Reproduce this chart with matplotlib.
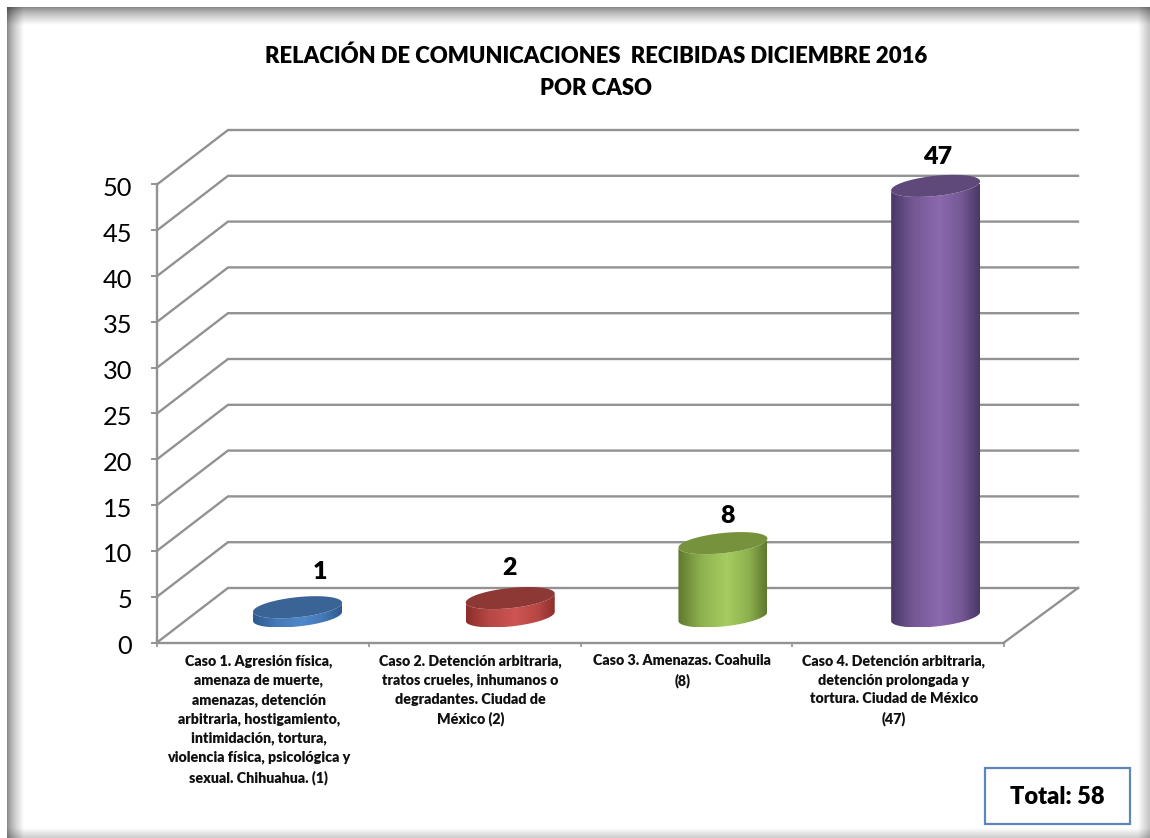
import numpy as np
import matplotlib
matplotlib.use("Agg")
import matplotlib.pyplot as plt
from matplotlib.colors import LinearSegmentedColormap, to_rgb
from matplotlib.patches import PathPatch, Rectangle
from matplotlib.path import Path
from matplotlib.transforms import ScaledTranslation

plt.rcParams['font.family'] = ['Lato', 'DejaVu Sans']

# Data
categories = [
    "Caso 1. Agresión física,\namenaza de muerte,\namenazas, detención\narbitraria, hostigamiento,\nintimidación, tortura,\nviolencia física, psicológica y\nsexual. Chihuahua. (1)",
    "Caso 2. Detención arbitraria,\ntratos crueles, inhumanos o\ndegradantes. Ciudad de\nMéxico (2)",
    "Caso 3. Amenazas. Coahuila\n(8)",
    "Caso 4. Detención arbitraria,\ndetención prolongada y\ntortura. Ciudad de México\n(47)",
]
values = [1, 2, 8, 47]
yticks = [0, 5, 10, 15, 20, 25, 30, 35, 40, 45, 50]
title = "RELACIÓN DE COMUNICACIONES  RECIBIDAS DICIEMBRE 2016\nPOR CASO"
total_label = "Total: 58"

edge_colors = ['#2f5a8f', '#8c2e2b', '#5f7a2e', '#4a3868']
mid_colors = ['#5088cc', '#cd5552', '#a6cd60', '#8b69ad']
top_colors = ['#3a6496', '#8e3836', '#76923c', '#5f497a']

W, H = 1150, 838
GRID = '#929292'
BOLD = 'heavy'

fig = plt.figure(figsize=(W/100, H/100), dpi=100)

# Frame shadow behind everything
bg = fig.add_axes([0, 0, 1, 1], zorder=0)
bg.axis('off')
px = np.arange(W)+0.5
py = np.arange(H)+0.5
fade_l = np.clip((px-7)/17, 0, 1)**0.7*0.5+0.5
fade_r = np.clip((W-px)/12, 0, 1)*0.24+0.76
fade_t = np.clip((py-8)/18, 0, 1)**0.7*0.5+0.5
fade_b = np.clip((H-py)/10, 0, 1)*0.2+0.8
shade = np.outer(fade_t*fade_b, fade_l*fade_r)
shade[py < 8, :] = 1
shade[:, px < 7] = 1
bg.imshow(shade, cmap='gray', vmin=0, vmax=1, aspect='auto', extent=[0, W, H, 0])
bg.set_xlim(0, W)
bg.set_ylim(H, 0)

# Main axes: front plane of the 3D box
x0, x1 = 157, 1004
y0, y50 = 642.5, 184.5
ax = fig.add_axes([x0/W, 1-y0/H, (x1-x0)/W, (y0-y50)/H], zorder=1)
ax.patch.set_alpha(0)
ax.set_xlim(0, 4)
ax.set_ylim(0, 50)
sx = (x1-x0)/4    # px per category
sy = (y0-y50)/50  # px per unit
dx = 71/sx        # depth shift in data units
dy = 54.5/sy
back_right = 4+dx+3/sx

for s in ['top', 'right']:
    ax.spines[s].set_visible(False)
for s in ['left', 'bottom']:
    ax.spines[s].set_color(GRID)
    ax.spines[s].set_linewidth(1.7)
ax.set_yticks(yticks)
ax.set_xticks(range(5))
ax.set_xticklabels([])
ax.tick_params(axis='y', length=4, width=1.4, color=GRID, labelsize=18.3, pad=14, labelcolor='black')
ax.tick_params(axis='x', length=3, width=1.2, color=GRID)
down = ScaledTranslation(0, -2/100, fig.dpi_scale_trans)
for lab in ax.get_yticklabels():
    lab.set_transform(lab.get_transform()+down)

# Grid on the walls
for v in yticks:
    ax.plot([0, dx, back_right], [v, v+dy, v+dy], color=GRID, lw=1.7, clip_on=False, zorder=1,
            solid_joinstyle='miter')
ax.plot([4, back_right], [0, dy], color=GRID, lw=1.7, clip_on=False, zorder=1)

# Cylinders
t = np.linspace(0, 2*np.pi, 121)
half_w = 44.5/sx
tilt = 4.5/sy
half_h = 10.1/sy
base = 2.85  # base centre height at mid depth, in value units
label_dx = [22, -1, 5, 2]    # px, label offset from cylinder centre
label_dy = [35, 30, 27, 29]


def ellipse_xy(cx, cy, tt):
    return cx+half_w*np.cos(tt), cy+tilt*np.cos(tt)+half_h*np.sin(tt)


def blend(a, b, f):
    a, b = np.array(to_rgb(a)), np.array(to_rgb(b))
    return tuple(a+(b-a)*f)


for i, v in enumerate(values):
    cx = 0.5+dx/2-0.004+i*1.0045
    cy_b = base
    cy_t = base+v
    # body: along the front of the base, then back over the top
    tb = np.linspace(np.pi, 2*np.pi, 61)
    xb, yb = ellipse_xy(cx, cy_b, tb)
    xt, yt = ellipse_xy(cx, cy_t, tb[::-1])
    xs = np.concatenate([xb, xt])
    ys = np.concatenate([yb, yt])
    path = Path(np.column_stack([xs, ys]), closed=False)
    e, m = edge_colors[i], mid_colors[i]
    grad = LinearSegmentedColormap.from_list(
        'c%d' % i, [(0, e), (0.25, blend(e, m, 0.65)), (0.55, m), (0.8, blend(e, m, 0.65)), (1, e)])
    im = ax.imshow(np.linspace(0, 1, 90)[None, :], cmap=grad, aspect='auto', zorder=3,
                   extent=[cx-half_w, cx+half_w, ys.min(), ys.max()])
    im.set_clip_path(PathPatch(path, transform=ax.transData))
    xe, ye = ellipse_xy(cx, cy_t, t)
    ax.fill(xe, ye, color=top_colors[i], lw=0, zorder=4, clip_on=False)
    ax.text(cx+label_dx[i]/sx, cy_t+label_dy[i]/sy, str(v), ha='center', va='center',
            fontsize=18, fontweight=BOLD, color='black', zorder=5)
    ax.text(i+0.5-0.02, -1.3, categories[i], ha='center', va='top', fontsize=10.3,
            fontweight=BOLD, linespacing=1.5, color='#111111', clip_on=False)

ax.set_xlim(0, 4)
ax.set_ylim(0, 50)

# Title
fig.text(596/W, 1-72/H, title, ha='center', va='center', fontsize=15.9, fontweight=BOLD,
         linespacing=1.64, color='black')

# Total box
fig.add_artist(Rectangle((985/W, 1-824/H), 145/W, 56/H, transform=fig.transFigure,
                         facecolor='white', edgecolor='#5b87bd', lw=1.6, zorder=3))
fig.text(1057.5/W, 1-796.5/H, total_label, ha='center', va='center', fontsize=17,
         fontweight=BOLD, color='black', zorder=4)

fig.savefig('out.png', dpi=100)
